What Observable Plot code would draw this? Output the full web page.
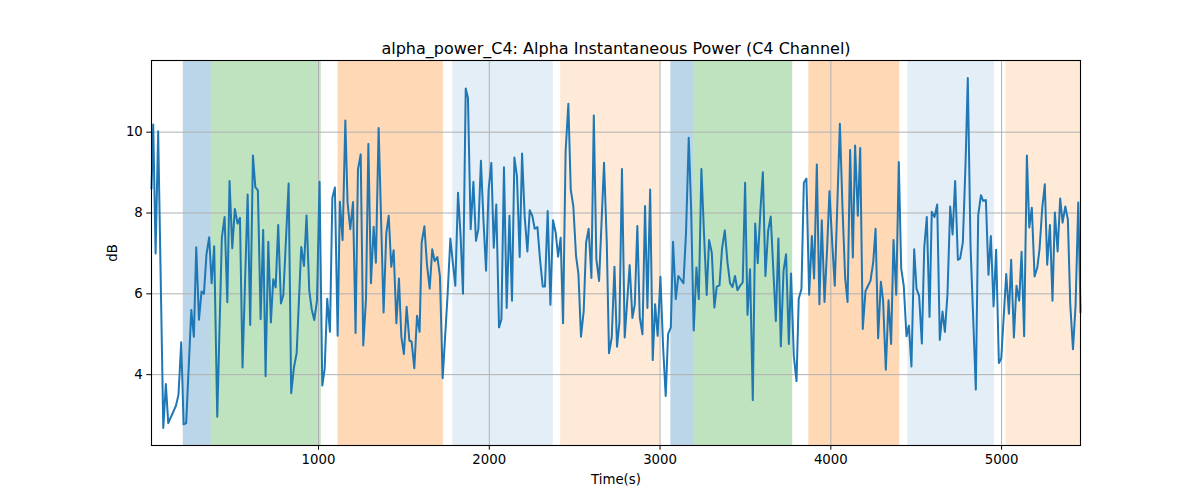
<!DOCTYPE html>
<html>
<head>
<meta charset="utf-8">
<script src="https://cdn.jsdelivr.net/npm/d3@7"></script>
<script src="https://cdn.jsdelivr.net/npm/@observablehq/plot@0.6"></script>
<style>
  html, body { margin: 0; padding: 0; background: #fff; }
  #chart { width: 1200px; height: 500px; }
</style>
</head>
<body>
<div id="chart"></div>
<script>
const title = "alpha_power_C4: Alpha Instantaneous Power (C4 Channel)";
const xLabel = "Time(s)";
const yLabel = "dB";
const xTicks = [1000, 2000, 3000, 4000, 5000];
const yTicks = [4, 6, 8, 10];

const times = [
  22,32,46,61,91,106,120,165,180,196,210,225,255,270,284,300,315,329,344,360,374,389,407,434,450,466,479,495,510,526,540,555,585,600,616,630,645,661,676,690,
  706,721,735,749,764,780,794,825,840,856,872,899,915,930,946,960,975,991,1006,1022,1036,1051,1067,1081,1096,1112,1125,1141,1157,1170,1186,1202,1217,1231,1247,1262,1278,1292,1307,1323,1336,1352,1381,
  1397,1411,1426,1440,1456,1471,1485,1500,1516,1532,1545,1561,1577,1592,1604,1620,1635,1651,1666,1680,1696,1711,1727,1756,1772,1786,1801,1817,1832,1846,1862,1875,1891,1907,1922,1936,1951,1967,1981,1996,2012,2026,2041,2057,2071,2086,
  2102,2118,2133,2147,2162,2178,2192,2207,2223,2237,2252,2266,2282,2297,2313,2326,2342,2358,2373,2389,2403,2418,2432,2447,2463,2477,2492,2508,2522,2537,2553,2567,2582,2598,2612,2627,2643,2672,2688,2701,2717,2733,2748,2762,2777,2793,
  2822,2838,2852,2867,2881,2897,2912,2926,2942,2957,2971,2986,3002,3018,3033,3047,3063,3076,3092,3107,3121,3137,3152,3168,3182,3197,3213,3227,3242,3258,3273,3287,3303,3318,3332,3348,3363,3379,3395,3410,3424,3439,3453,3469,3484,3498,
  3512,3527,3543,3557,3572,3588,3602,3617,3633,3648,3662,3678,3693,3707,3723,3738,3754,3767,3783,3799,3812,3828,3842,3857,3873,3889,3902,3918,3933,3947,3963,3978,3992,4008,4023,4053,4068,4084,4098,4113,4129,4142,4158,4172,4187,4203,
  4218,4232,4248,4262,4277,4293,4306,4322,4338,4353,4367,4383,4398,4412,4427,4443,4457,4472,4488,4502,4517,4533,4547,4562,4578,4591,4607,4623,4638,4654,4668,4683,4699,4713,4728,4744,4757,4773,4789,4802,4818,4849,
  4863,4879,4892,4908,4923,4937,4953,4968,4984,4998,5027,5043,5056,5072,5087,5103,5117,5132,5148,5162,5177,5193,5209,5222,5238,5253,5267,5283,5298,5312,5328,5343,5357,5373,5388,5402,5418,5433,5449,5462
];
const values = [
  8.6,10.19,7.0,10.02,2.68,3.77,2.8,3.23,3.5,4.8,2.77,2.8,5.6,4.94,7.15,5.36,6.06,6.0,6.98,7.4,6.26,7.18,2.96,7.39,7.9,5.79,8.79,7.13,8.1,7.74,7.88,4.18,8.46,5.23,9.42,8.64,8.56,5.37,7.58,3.96,
  7.29,5.29,6.36,6.16,7.7,5.76,5.97,8.73,3.54,4.18,4.53,7.16,6.69,7.94,6.07,5.62,5.35,5.83,8.77,3.73,4.14,5.88,5.06,8.38,8.63,4.96,8.28,7.33,10.29,8.26,7.6,8.27,5.03,9.08,9.45,4.72,5.87,9.71,6.26,7.66,6.77,10.1,5.54,
  7.51,7.93,6.67,7.08,5.27,6.38,4.94,4.51,5.68,4.84,4.82,4.16,5.46,5.06,7.27,7.67,6.73,6.13,7.1,6.81,6.91,6.44,3.91,5.99,7.37,6.79,6.2,8.5,7.43,6.0,11.08,10.85,7.6,8.77,7.31,7.6,9.29,7.72,6.57,8.58,9.24,7.14,8.21,5.17,5.37,9.13,
  5.65,7.93,5.83,9.37,8.91,6.91,9.47,7.93,7.05,8.07,7.93,7.61,7.65,6.86,6.18,6.18,8.05,5.73,7.82,7.51,6.92,7.39,5.27,9.53,10.7,8.58,8.17,6.94,6.49,4.94,5.58,7.27,7.61,6.39,10.41,6.86,6.32,9.24,7.27,4.53,4.92,6.67,4.69,5.29,9.09,4.92,
  6.71,5.40,5.74,7.68,5.42,5.0,8.17,5.65,8.58,4.36,5.74,4.96,6.42,4.67,3.47,5.0,5.17,7.29,5.87,6.44,6.36,6.26,7.51,9.86,8.09,5.09,6.65,5.87,9.09,7.43,5.97,7.33,7.02,5.66,6.18,6.21,7.12,7.57,6.77,6.26,6.17,6.44,6.09,6.2,6.28,8.75,
  5.48,6.61,3.37,7.74,6.76,8.09,9.01,6.44,7.56,7.91,6.69,5.33,7.37,4.70,6.57,6.98,4.76,6.5,4.47,3.84,5.88,6.12,8.75,8.85,5.98,7.43,6.38,9.2,5.74,7.82,5.8,7.1,8.54,7.27,6.2,10.21,8.17,6.38,5.8,9.56,6.9,9.67,7.93,9.61,5.13,6.07,
  6.2,6.32,6.77,7.61,4.9,6.3,5.83,4.12,5.84,4.76,7.33,5.98,9.26,6.63,6.2,4.95,5.21,4.2,7.1,6.12,5.95,4.77,7.14,7.9,5.43,8.03,7.9,8.21,4.86,5.56,5.06,5.99,8.16,7.47,8.79,6.84,6.87,7.27,9.24,11.34,7.19,3.63,
  7.94,8.44,8.3,8.32,6.47,7.43,5.69,7.09,4.29,4.4,6.49,5.51,6.84,4.92,6.2,5.83,7.04,4.95,9.42,7.64,8.13,6.43,6.65,7.1,8.13,8.71,6.72,7.7,5.83,8.01,7.05,8.36,7.76,8.16,7.84,5.74,4.63,5.7,8.26,5.54
];

// shaded epochs: start, end, colour, opacity
const spanStart = [208, 372, 1114, 1786, 2418, 3063, 3199, 3871, 4451, 5025];
const spanEnd   = [372, 1016, 1731, 2375, 3000, 3199, 3777, 4404, 4959, 5462];
const spanColor = ["#1f77b4","#2ca02c","#ff7f0e","#1f77b4","#ff7f0e","#1f77b4","#2ca02c","#ff7f0e","#1f77b4","#ff7f0e"];
const spanAlpha = [0.3, 0.3, 0.3, 0.12, 0.16, 0.3, 0.3, 0.3, 0.12, 0.16];

const data = times.map((t, i) => ({t, v: values[i]}));
const spans = spanStart.map((s, i) => ({s, e: spanEnd[i], c: spanColor[i], a: spanAlpha[i]}));

const vmin = d3.min(values), vmax = d3.max(values);
const pad = (vmax - vmin) * 0.05;
const xDomain = [d3.min(times), d3.max(times)];

const chart = Plot.plot({
  width: 1200,
  height: 500,
  marginLeft: 151,
  marginRight: 120,
  marginTop: 60,
  marginBottom: 55,
  style: {fontFamily: "DejaVu Sans", fontSize: "13.3px", color: "#000", background: "#fff"},
  x: {domain: xDomain},
  y: {domain: [vmin - pad, vmax + pad]},
  marks: [
    Plot.rect(spans, {x1: "s", x2: "e", fill: "c", fillOpacity: "a"}),
    Plot.gridX(xTicks, {stroke: "#b0b0b0", strokeOpacity: 1, strokeWidth: 1}),
    Plot.gridY(yTicks, {stroke: "#b0b0b0", strokeOpacity: 1, strokeWidth: 1}),
    Plot.line(data, {x: "t", y: "v", stroke: "#1f77b4", strokeWidth: 2}),
    Plot.frame({stroke: "#000", strokeWidth: 1.1}),
    Plot.axisX({ticks: xTicks, tickFormat: d3.format("d"), tickSize: 4.7, tickPadding: 4, fontSize: 13.3, label: xLabel, labelAnchor: "center", labelArrow: "none", labelOffset: 38}),
    Plot.axisY({ticks: yTicks, tickFormat: d3.format("d"), tickSize: 4.7, tickPadding: 4, fontSize: 13.3, label: yLabel, labelAnchor: "center", labelArrow: "none", labelOffset: 44}),
    Plot.text([title], {frameAnchor: "top", lineAnchor: "bottom", dy: -7, fontSize: 16, fill: "#000"})
  ]
});
document.getElementById("chart").appendChild(chart);
</script>
</body>
</html>
